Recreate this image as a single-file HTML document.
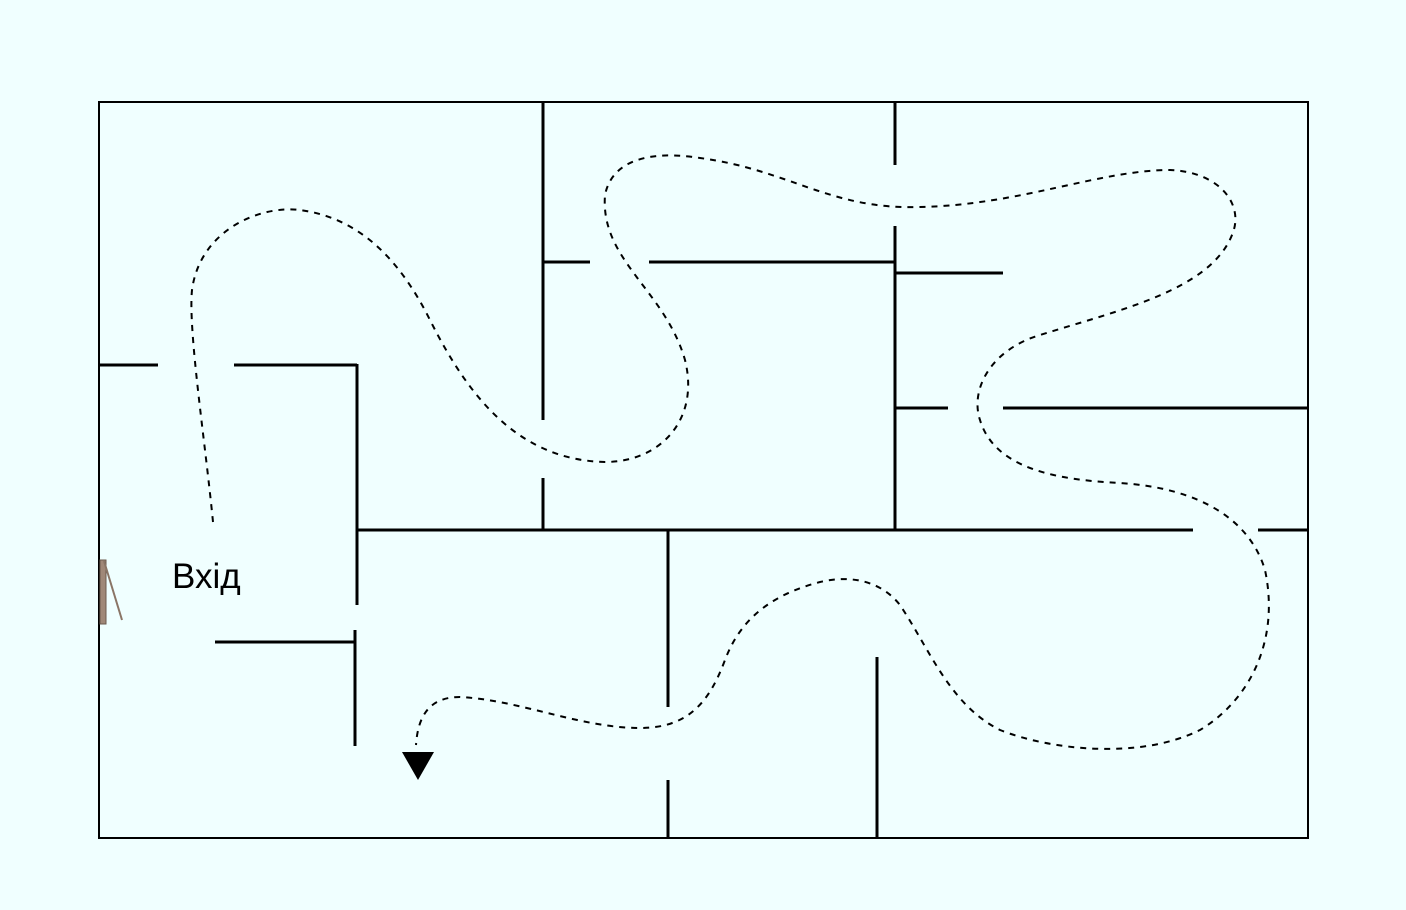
<!DOCTYPE html>
<html><head><meta charset="utf-8"><style>
html,body{margin:0;padding:0;background:#f0ffff;}
svg{display:block;}
</style></head><body>
<svg width="1406" height="910" viewBox="0 0 1406 910" xmlns="http://www.w3.org/2000/svg">
<rect x="0" y="0" width="1406" height="910" fill="#f0ffff"/>
<g stroke="#000" stroke-width="3" fill="none">
<rect x="99" y="102" width="1209" height="736" stroke-width="2"/>
<line x1="543" y1="102" x2="543" y2="420"/>
<line x1="543" y1="478" x2="543" y2="530"/>
<line x1="895" y1="102" x2="895" y2="165"/>
<line x1="895" y1="226" x2="895" y2="530"/>
<line x1="543" y1="262" x2="590" y2="262"/>
<line x1="649" y1="262" x2="895" y2="262"/>
<line x1="895" y1="273" x2="1003" y2="273"/>
<line x1="99" y1="365" x2="158" y2="365"/>
<line x1="234" y1="365" x2="357" y2="365"/>
<line x1="357" y1="364" x2="357" y2="605"/>
<line x1="357" y1="530" x2="1193" y2="530"/>
<line x1="1258" y1="530" x2="1308" y2="530"/>
<line x1="895" y1="408" x2="948" y2="408"/>
<line x1="1003" y1="408" x2="1308" y2="408"/>
<line x1="668" y1="530" x2="668" y2="707"/>
<line x1="668" y1="780" x2="668" y2="838"/>
<line x1="877" y1="657" x2="877" y2="838"/>
<line x1="215" y1="642" x2="355" y2="642"/>
<line x1="355" y1="630" x2="355" y2="746"/>
</g>
<path d="M213,522 C205,440 188,330 192,290 C200,230 260,205 300,210 C360,218 400,260 430,320 C470,400 520,460 605,462 C660,462 700,420 685,360 C665,290 600,260 605,195 C612,160 650,150 700,158 C790,170 830,210 920,207 C1020,205 1100,170 1170,170 C1220,172 1245,205 1232,235 C1210,290 1120,310 1040,335 C990,350 970,390 980,420 C995,470 1060,480 1120,483 C1200,488 1250,520 1265,570 C1280,640 1250,700 1200,730 C1140,760 1050,750 1000,730 C950,705 930,650 900,605 C880,580 850,575 820,582 C770,595 740,620 725,660 C710,700 690,728 640,728 C580,728 520,700 460,697 C430,697 418,715 416,745" fill="none" stroke="#000" stroke-width="2" stroke-dasharray="6,6"/>
<polygon points="402,752 434,752 418,780" fill="#000"/>
<rect x="100" y="560" width="6" height="64" fill="#a08878" stroke="#6b5a4e" stroke-width="1"/>
<line x1="104" y1="561" x2="122" y2="620" stroke="#8a7566" stroke-width="2"/>
<text x="172" y="588" font-family="Liberation Sans, DejaVu Sans, sans-serif" font-size="35" fill="#000">Вхід</text>
</svg>
</body></html>
